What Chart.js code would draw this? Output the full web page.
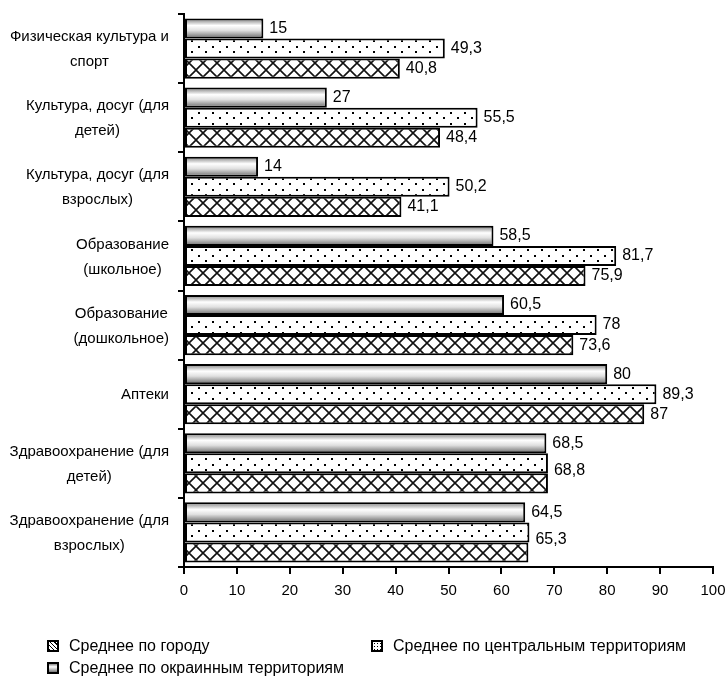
<!DOCTYPE html>
<html>
<head>
<meta charset="utf-8">
<script src="https://cdn.jsdelivr.net/npm/chart.js@4"></script>
<style>
  body { margin: 0; background: #fff; }
  #wrap { position: relative; width: 728px; height: 681px; }
  .leg { position: absolute; font: 16px "Liberation Sans", Arial, sans-serif; color: #000; white-space: nowrap; }
  .leg i { display: inline-block; width: 8px; height: 8px; border: 2px solid #000; margin-right: 10px; vertical-align: -1px; }
</style>
</head>
<body>
<div id="wrap">
  <canvas id="chart" width="728" height="681"></canvas>
  <div class="leg" style="left:47px; top:637px;"><i style="background: repeating-linear-gradient(45deg,#000 0 1px,#fff 1px 3px);"></i>Среднее по городу</div>
  <div class="leg" style="left:371px; top:637px;"><i style="background: radial-gradient(#000 0.8px, #fff 1px) 0 0/3px 3px;"></i>Среднее по центральным территориям</div>
  <div class="leg" style="left:47px; top:659px;"><i style="background: linear-gradient(#888,#fff 35%,#777);"></i>Среднее по окраинным территориям</div>
</div>
<script>
const categories = [
    ['Физическая культура и', 'спорт'],
    ['Культура, досуг (для', 'детей)'],
    ['Культура, досуг (для', 'взрослых)'],
    ['Образование', '(школьное)'],
    ['Образование', '(дошкольное)'],
    ['Аптеки'],
    ['Здравоохранение (для', 'детей)'],
    ['Здравоохранение (для', 'взрослых)']
];

// top bar in each group
const outskirts = [15, 27, 14, 58.5, 60.5, 80, 68.5, 64.5];
// middle bar
const central = [49.3, 55.5, 50.2, 81.7, 78, 89.3, 68.8, 65.3];
// bottom bar
const city = [40.8, 48.4, 41.1, 75.9, 73.6, 87, 68.8, 65.1];
// the last two city bars carry no label of their own in the source
const cityLabels = [true, true, true, true, true, true, false, false];

const xTicks = [0, 10, 20, 30, 40, 50, 60, 70, 80, 90, 100];

const FONT = '"Liberation Sans", Arial, sans-serif';
const CAT_PCT = 0.87;

function makePattern(w, h, draw) {
    const c = document.createElement('canvas');
    c.width = w;
    c.height = h;
    const g = c.getContext('2d');
    g.fillStyle = '#fff';
    g.fillRect(0, 0, w, h);
    draw(g);
    return g.createPattern(c, 'repeat');
}

const dots = makePattern(14, 11, g => {
    g.fillStyle = '#000';
    g.fillRect(2, 2, 2, 2);
    g.fillRect(9, 7, 2, 2);
});

const cross = makePattern(14, 14, g => {
    g.strokeStyle = '#111';
    g.lineWidth = 1.6;
    g.beginPath();
    g.moveTo(0, 0); g.lineTo(14, 14);
    g.moveTo(14, 0); g.lineTo(0, 14);
    g.stroke();
});

// grey shaded fill, light near the upper third of each bar
function shaded(ctx) {
    const chart = ctx.chart;
    const area = chart.chartArea;
    if (!area || ctx.dataIndex === undefined) return '#bbb';
    const band = (area.bottom - area.top) / categories.length * CAT_PCT / 3;
    const top = chart.scales.y.getPixelForValue(ctx.dataIndex) - 1.5 * band;
    const grad = chart.ctx.createLinearGradient(0, top, 0, top + band);
    grad.addColorStop(0, '#7a7a7a');
    grad.addColorStop(0.35, '#ffffff');
    grad.addColorStop(0.6, '#e0e0e0');
    grad.addColorStop(1, '#666666');
    return grad;
}

const valueLabels = {
    id: 'valueLabels',
    afterDatasetsDraw(chart) {
        const c = chart.ctx;
        c.save();
        c.font = '16px ' + FONT;
        c.fillStyle = '#000';
        c.textBaseline = 'middle';
        chart.data.datasets.forEach((ds, di) => {
            chart.getDatasetMeta(di).data.forEach((bar, i) => {
                if (di === 2 && !cityLabels[i]) return;
                let y = bar.y;
                if (di === 1 && !cityLabels[i]) y += 7;
                c.fillText(String(ds.data[i]).replace('.', ','), bar.x + 6, y);
            });
        });
        c.restore();
    }
};

// category names: each block right-aligned, its lines centred on each other
const categoryLabels = {
    id: 'categoryLabels',
    afterDraw(chart) {
        const c = chart.ctx;
        const yScale = chart.scales.y;
        const right = chart.chartArea.left - 15;
        c.save();
        c.font = '15px ' + FONT;
        c.fillStyle = '#000';
        c.textAlign = 'center';
        c.textBaseline = 'middle';
        categories.forEach((lines, i) => {
            const w = Math.max(...lines.map(s => c.measureText(s).width));
            const cx = right - w / 2;
            const cy = yScale.getPixelForValue(i) + 1;
            lines.forEach((s, k) => c.fillText(s, cx, cy + (k - (lines.length - 1) / 2) * 25));
        });
        c.restore();
    }
};

new Chart(document.getElementById('chart'), {
    type: 'bar',
    data: {
        labels: categories.map(l => l.join(' ')),
        datasets: [
            { label: 'Среднее по окраинным территориям', data: outskirts, backgroundColor: shaded },
            { label: 'Среднее по центральным территориям', data: central, backgroundColor: dots },
            { label: 'Среднее по городу', data: city, backgroundColor: cross }
        ]
    },
    options: {
        indexAxis: 'y',
        responsive: false,
        animation: false,
        events: [],
        layout: { autoPadding: false, padding: { left: 6, top: 14, right: 15, bottom: 73 } },
        datasets: {
            bar: {
                borderColor: '#000',
                borderWidth: 2,
                borderSkipped: false,
                categoryPercentage: CAT_PCT,
                barPercentage: 1
            }
        },
        plugins: {
            legend: { display: false },
            tooltip: { enabled: false }
        },
        scales: {
            x: {
                min: 0,
                max: 100,
                afterBuildTicks: axis => { axis.ticks = xTicks.map(v => ({ value: v })); },
                afterFit: axis => { axis.paddingLeft = 0; axis.paddingRight = 0; },
                border: { color: '#000', width: 2 },
                grid: { drawOnChartArea: false, color: '#000', lineWidth: 2, tickLength: 7 },
                ticks: { color: '#000', font: { family: FONT, size: 15 }, padding: 8, maxRotation: 0 }
            },
            y: {
                afterFit: axis => { axis.width = 178; },
                border: { color: '#000', width: 2 },
                grid: { drawOnChartArea: false, color: '#000', lineWidth: 2, tickLength: 6, offset: true },
                ticks: { display: false }
            }
        }
    },
    plugins: [valueLabels, categoryLabels]
});
</script>
</body>
</html>
